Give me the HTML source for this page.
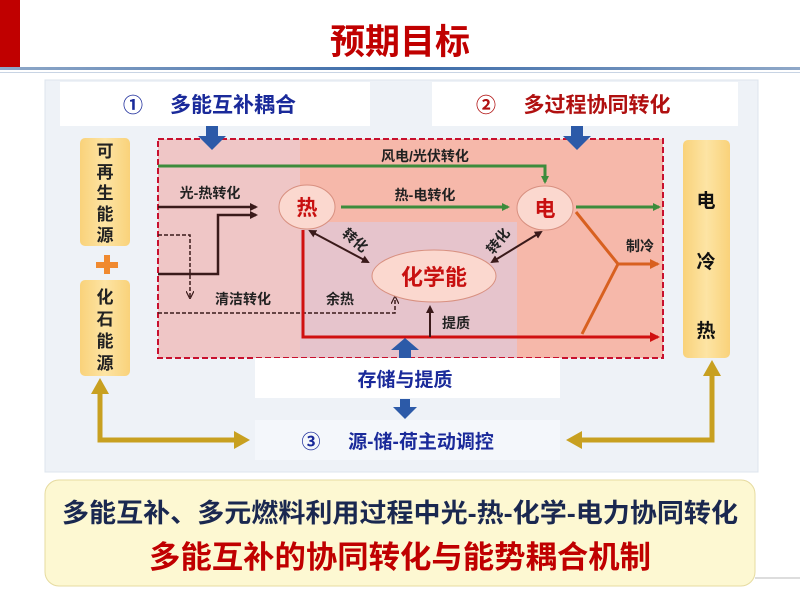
<!DOCTYPE html>
<html><head><meta charset="utf-8"><style>
body{margin:0;width:800px;height:600px;overflow:hidden;background:#fff;font-family:"Liberation Sans","Noto Sans CJK SC",sans-serif;}
text{font-family:"Liberation Sans","Noto Sans CJK SC",sans-serif;font-weight:bold;}
</style></head><body>
<svg width="800" height="600" viewBox="0 0 800 600" xmlns="http://www.w3.org/2000/svg">
<defs>
<linearGradient id="ylw" x1="0" y1="0" x2="1" y2="0"><stop offset="0" stop-color="#f9d27a"/><stop offset="0.5" stop-color="#fde4a4"/><stop offset="1" stop-color="#f9d27a"/></linearGradient>
<linearGradient id="hl" x1="0" y1="0" x2="1" y2="0"><stop offset="0" stop-color="#8fa8c8"/><stop offset="0.5" stop-color="#3a6aa8"/><stop offset="1" stop-color="#8fa8c8"/></linearGradient>
<marker id="ag" markerWidth="8" markerHeight="8" refX="6" refY="4" orient="auto" markerUnits="userSpaceOnUse"><path d="M0,0 L8,4 L0,8 z" fill="#3c8c3c"/></marker>
<marker id="ak" markerWidth="8" markerHeight="8" refX="6" refY="4" orient="auto-start-reverse" markerUnits="userSpaceOnUse"><path d="M0,0 L8,4 L0,8 z" fill="#3a1a1a"/></marker>
<marker id="ar" markerWidth="10" markerHeight="10" refX="8" refY="5" orient="auto" markerUnits="userSpaceOnUse"><path d="M0,0 L10,5 L0,10 z" fill="#d01010"/></marker>
<marker id="ao" markerWidth="10" markerHeight="10" refX="8" refY="5" orient="auto" markerUnits="userSpaceOnUse"><path d="M0,0 L10,5 L0,10 z" fill="#d86020"/></marker>
<marker id="ad" markerWidth="8" markerHeight="8" refX="6" refY="4" orient="auto" markerUnits="userSpaceOnUse"><path d="M0,0 L8,4 L0,8" fill="none" stroke="#3a1a1a" stroke-width="1.2"/></marker>
</defs>
<rect x="0" y="0" width="20" height="68" fill="#c00000"/>
<text x="400" y="54" font-size="35" fill="#c00000" text-anchor="middle">预期目标</text>
<rect x="0" y="67" width="800" height="3" fill="url(#hl)"/>
<rect x="0" y="72" width="800" height="1" fill="#c8d4e4"/>
<rect x="45" y="80" width="713" height="392" fill="#eef2f7" stroke="#dde4ee"/>
<rect x="60" y="82" width="310" height="44" fill="#fff"/>
<text x="133" y="112" font-size="20" fill="#1a2a9a" text-anchor="middle">①</text>
<text x="233" y="112" font-size="21" fill="#1a2a9a" text-anchor="middle">多能互补耦合</text>
<rect x="432" y="82" width="306" height="44" fill="#fff"/>
<text x="486" y="112" font-size="20" fill="#b01010" text-anchor="middle">②</text>
<text x="597" y="112" font-size="21" fill="#b01010" text-anchor="middle">多过程协同转化</text>
<rect x="158" y="139" width="142" height="219" fill="#efc6c6"/>
<rect x="300" y="139" width="363" height="83" fill="#f6b8aa"/>
<rect x="300" y="222" width="217" height="136" fill="#e6c4cc"/>
<rect x="517" y="222" width="146" height="136" fill="#f6b8aa"/>
<rect x="158" y="139" width="505" height="219" fill="none" stroke="#c8102e" stroke-width="2" stroke-dasharray="6,3"/>
<path d="M206,126 h12 v10 h8 l-14,14 l-14,-14 h8 z" fill="#2c5aa8"/>
<path d="M571,126 h12 v10 h8 l-14,14 l-14,-14 h8 z" fill="#2c5aa8"/>
<rect x="80" y="138" width="50" height="108" rx="5" fill="url(#ylw)"/>
<text font-size="17" fill="#222" text-anchor="middle"><tspan x="105" y="157">可</tspan><tspan x="105" y="178">再</tspan><tspan x="105" y="199">生</tspan><tspan x="105" y="220">能</tspan><tspan x="105" y="241">源</tspan></text>
<rect x="96" y="262" width="22" height="6" fill="#f08a30"/><rect x="104" y="255" width="6" height="19" fill="#f08a30"/>
<rect x="80" y="280" width="50" height="96" rx="5" fill="url(#ylw)"/>
<text font-size="17" fill="#222" text-anchor="middle"><tspan x="105" y="303">化</tspan><tspan x="105" y="325">石</tspan><tspan x="105" y="347">能</tspan><tspan x="105" y="369">源</tspan></text>
<rect x="683" y="140" width="47" height="218" rx="5" fill="url(#ylw)"/>
<text font-size="19" fill="#111" text-anchor="middle"><tspan x="706" y="207">电</tspan><tspan x="706" y="268">冷</tspan><tspan x="706" y="337">热</tspan></text>
<path d="M158,166 H545 V182" fill="none" stroke="#3c8c3c" stroke-width="3" marker-end="url(#ag)"/>
<text x="425" y="161" font-size="14" fill="#222" text-anchor="middle">风电/光伏转化</text>
<path d="M341,207 H508" fill="none" stroke="#3c8c3c" stroke-width="3" marker-end="url(#ag)"/>
<text x="425" y="200" font-size="14" fill="#222" text-anchor="middle">热-电转化</text>
<path d="M576,207 H659" fill="none" stroke="#3c8c3c" stroke-width="3" marker-end="url(#ag)"/>
<path d="M158,207 H256" fill="none" stroke="#3a1a1a" stroke-width="2.5" marker-end="url(#ak)"/>
<path d="M158,274 H218 V215 H256" fill="none" stroke="#3a1a1a" stroke-width="2.5" marker-end="url(#ak)"/>
<text x="210" y="198" font-size="14" fill="#222" text-anchor="middle">光-热转化</text>
<path d="M158,235 H190 V297" fill="none" stroke="#3a1a1a" stroke-width="1.5" stroke-dasharray="4,2" marker-end="url(#ad)"/>
<path d="M158,313 H395 V298" fill="none" stroke="#3a1a1a" stroke-width="1.5" stroke-dasharray="4,2" marker-end="url(#ad)"/>
<text x="243" y="304" font-size="14" fill="#222" text-anchor="middle">清洁转化</text>
<text x="340" y="304" font-size="14" fill="#222" text-anchor="middle">余热</text>
<path d="M303,230 V337 H658" fill="none" stroke="#d01010" stroke-width="3" marker-end="url(#ar)"/>
<path d="M430,337 V307" fill="none" stroke="#3a1a1a" stroke-width="2" marker-end="url(#ak)"/>
<text x="456" y="328" font-size="14" fill="#222" text-anchor="middle">提质</text>
<path d="M576,212 L618,264 H658" fill="none" stroke="#d86020" stroke-width="3" marker-end="url(#ao)"/>
<path d="M618,264 L582,334" fill="none" stroke="#d86020" stroke-width="3"/>
<text x="640" y="251" font-size="14" fill="#222" text-anchor="middle">制冷</text>
<path d="M310,231 L368,262" fill="none" stroke="#3a1a1a" stroke-width="2" marker-start="url(#ak)" marker-end="url(#ak)"/>
<text x="352" y="244" font-size="14" fill="#222" text-anchor="middle" transform="rotate(40 352 244)">转化</text>
<path d="M541,232 L492,262" fill="none" stroke="#3a1a1a" stroke-width="2" marker-start="url(#ak)" marker-end="url(#ak)"/>
<text x="502" y="244" font-size="14" fill="#222" text-anchor="middle" transform="rotate(-52 502 244)">转化</text>
<ellipse cx="307" cy="207" rx="28" ry="22" fill="#fbd8cf" stroke="#d89080"/>
<text x="307" y="215" font-size="21" fill="#c81010" text-anchor="middle">热</text>
<ellipse cx="545" cy="208" rx="28" ry="22" fill="#fbd8cf" stroke="#d89080"/>
<text x="545" y="216" font-size="21" fill="#c81010" text-anchor="middle">电</text>
<ellipse cx="434" cy="276" rx="62" ry="26" fill="#fbd8cf" stroke="#d89080"/>
<text x="434" y="285" font-size="22" fill="#c81010" text-anchor="middle">化学能</text>
<path d="M399,358 v-8 h-8 l14,-12 l14,12 h-8 v8 z" fill="#2c5aa8"/>
<rect x="255" y="358" width="305" height="40" fill="#fff"/>
<text x="405" y="386" font-size="19" fill="#1a2a9a" text-anchor="middle">存储与提质</text>
<path d="M400,399 h10 v8 h7 l-12,12 l-12,-12 h7 z" fill="#2c5aa8"/>
<rect x="255" y="420" width="305" height="40" fill="#f4f7fb"/>
<text x="311" y="448" font-size="19" fill="#1a2a9a" text-anchor="middle">③</text>
<text x="421" y="448" font-size="19" fill="#1a2a9a" text-anchor="middle">源-储-荷主动调控</text>
<path d="M100,392 V440 H236" fill="none" stroke="#c8a020" stroke-width="5"/>
<path d="M91,394 L100,378 L109,394 z M234,431 L250,440 L234,449 z" fill="#c8a020"/>
<path d="M712,374 V440 H580" fill="none" stroke="#c8a020" stroke-width="5"/>
<path d="M703,376 L712,360 L721,376 z M582,431 L566,440 L582,449 z" fill="#c8a020"/>
<rect x="45" y="480" width="710" height="106" rx="14" fill="#fdf8d2" stroke="#e6dba0"/>
<text x="400" y="522" font-size="26" fill="#1a2850" text-anchor="middle" textLength="676" lengthAdjust="spacingAndGlyphs">多能互补、多元燃料利用过程中光-热-化学-电力协同转化</text>
<text x="400" y="568" font-size="31" fill="#c00000" text-anchor="middle" textLength="502" lengthAdjust="spacingAndGlyphs">多能互补的协同转化与能势耦合机制</text>
<line x1="755" y1="578" x2="800" y2="578" stroke="#bbb"/>
</svg>
</body></html>
